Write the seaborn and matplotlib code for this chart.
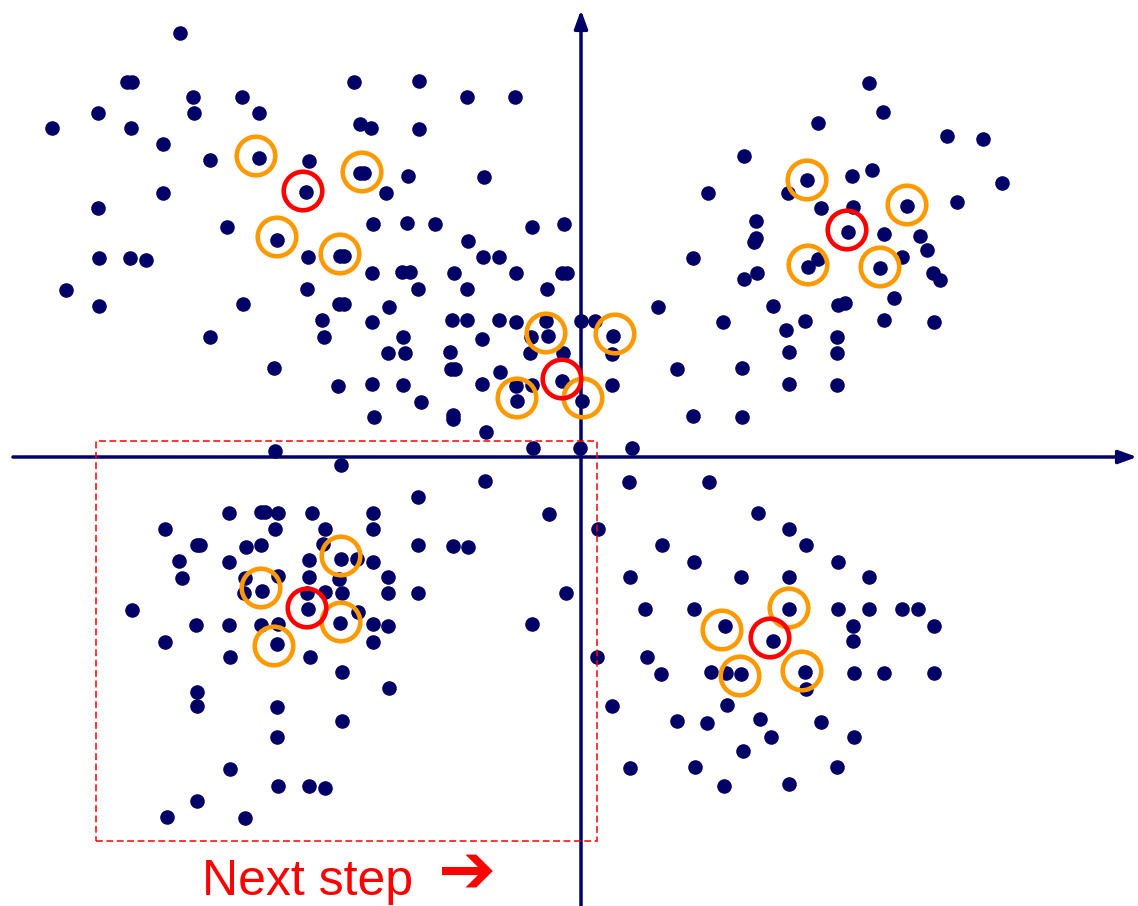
import matplotlib
matplotlib.use("Agg")
import matplotlib.pyplot as plt
from matplotlib.patches import Rectangle
import seaborn as sns
import pandas as pd

sns.set_theme(style="white")
plt.rcParams["font.family"] = ["Liberation Sans", "DejaVu Sans"]

NAVY = "#000066"
ORANGE = "#FF9900"
RED = "#FF0000"

# ---- samples, quadrant by quadrant ----
upper_left_x = [-40.1, -45.4, -44.9, -38.8, -33.9, -48.3, -38.7, -32.2, -52.9, -45.0,
                -41.8, -37.1, -32.2, -41.8, -48.3, -35.4, -30.4, -22.7, -16.2, -11.4,
                -6.6, -22.1, -21.0, -16.2, -27.2, -22.1, -21.7, -17.3, -9.7, -27.5,
                -19.5, -20.8, -17.4, -14.6, -11.3, -4.9, -1.7, -48.2, -45.1, -43.5,
                -51.5, -48.2, -33.8, -37.1, -30.7, -30.6, -24.1, -23.7, -27.3, -20.9,
                -17.9, -17.1, -12.7, -9.8, -8.2, -6.5, -1.9, -1.4, -3.4, -27.4,
                -16.3, -11.4, -24.2, -23.7, -19.2, -25.9, -20.9, -12.9, -11.4, -8.2,
                -6.5, -3.5, -3.3, 0.0, -25.7, -17.8, -9.9, -5.0, -19.3, -17.6,
                -13.1, -5.1, -1.8, -13.0, -12.6, -8.1, -24.3, -20.9, -17.8, -9.9,
                -6.5, -4.9, -1.9, -16.0, -6.4, 0.1, -20.7, -12.8, -12.8, -9.5,
                -4.8, -0.1]
upper_left_y = [42.4, 37.5, 37.5, 36.0, 36.0, 34.4, 34.4, 34.4, 32.9, 32.9,
                31.3, 29.7, 29.9, 26.4, 24.9, 23.0, 21.7, 37.5, 37.6, 36.0,
                36.0, 33.3, 32.9, 32.8, 29.6, 28.4, 28.4, 28.1, 28.0, 26.5,
                26.4, 23.3, 23.4, 23.3, 21.6, 23.0, 23.3, 19.9, 19.9, 19.7,
                16.7, 15.1, 15.3, 12.0, 8.9, 0.6, 20.1, 20.1, 20.0, 18.4,
                18.5, 18.5, 18.4, 20.0, 20.0, 18.4, 18.4, 18.4, 16.8, 16.8,
                16.8, 16.8, 15.3, 15.3, 15.0, 13.7, 13.5, 13.7, 13.7, 13.7,
                13.5, 13.6, 12.1, 13.6, 12.0, 12.0, 11.8, 12.0, 10.4, 10.4,
                10.5, 10.4, 10.4, 8.8, 8.8, 8.5, 7.1, 7.3, 7.2, 7.3,
                7.1, 7.2, 7.6, 5.5, 5.6, 5.6, 4.0, 4.2, 3.8, 2.5,
                0.9, 0.9]

upper_right_x = [28.8, 23.7, 30.2, 16.3, 22.6, 27.1, 29.1, 12.7, 20.7, 24.0,
                 27.2, 26.7, 17.5, 17.5, 36.6, 40.2, 42.1, 32.6, 37.6, 30.3,
                 33.9, 17.3, 11.2, 22.7, 23.7, 17.6, 16.3, 7.7, 19.2, 25.7,
                 26.4, 1.4, 14.2, 22.4, 20.5, 3.2, 3.1, 25.6, 20.8, 25.6,
                 9.6, 16.1, 3.1, 20.8, 25.6, 11.2, 16.1, 5.1, 34.6, 32.1,
                 29.9, 35.2, 35.9, 31.3, 30.3, 35.3]
upper_right_y = [37.4, 33.4, 34.5, 30.1, 27.7, 28.1, 28.7, 26.4, 26.4, 24.9,
                 25.0, 22.5, 23.6, 21.9, 32.1, 31.8, 27.4, 25.1, 25.5, 22.3,
                 22.1, 21.5, 19.9, 19.0, 19.8, 18.4, 17.8, 15.0, 15.1, 15.2,
                 15.4, 13.6, 13.5, 13.6, 12.7, 12.1, 10.3, 12.0, 10.5, 10.4,
                 8.8, 8.9, 7.2, 7.3, 7.2, 4.1, 4.0, 0.9, 20.7, 20.0,
                 18.9, 18.4, 17.7, 15.9, 13.7, 13.5]

lower_left_x = [-24.0, -16.3, -35.2, -32.0, -31.6, -30.3, -26.9, -20.8, -41.6, -30.6,
                -25.6, -20.8, -38.4, -38.1, -33.5, -32.0, -25.8, -16.3, -12.8, -11.3,
                -9.6, -3.2, -1.5, -4.9, -40.2, -35.2, -27.2, -24.0, -22.4, -20.8,
                -39.9, -33.6, -30.3, -27.2, -24.2, -19.3, -33.7, -31.9, -27.4, -25.6,
                -23.9, -19.3, -16.3, -44.9, -27.3, -22.3, -38.5, -35.2, -32.0, -30.3,
                -24.1, -20.8, -19.3, -41.6, -30.4, -20.8, -35.1, -27.1, -23.9, -19.2,
                -38.4, -38.4, -30.4, -23.9, -30.4, -35.1, -30.3, -27.2, -25.6, -38.4,
                -41.4, -33.6]
lower_left_y = [-0.8, -4.0, -5.6, -5.5, -5.5, -5.6, -5.6, -5.6, -7.2, -7.2,
                -7.2, -7.2, -8.8, -8.8, -9.0, -8.8, -8.7, -8.8, -8.9, -9.0,
                -2.4, -5.7, -13.6, -16.7, -10.4, -10.5, -10.3, -10.2, -10.2, -10.5,
                -12.1, -12.1, -11.9, -12.0, -12.2, -12.0, -13.6, -13.4, -13.6, -13.5,
                -13.6, -13.6, -13.6, -15.3, -15.2, -15.5, -16.8, -16.8, -16.8, -16.7,
                -16.6, -16.7, -16.9, -18.5, -18.7, -18.5, -20.0, -20.0, -21.5, -23.1,
                -23.5, -24.9, -25.0, -26.4, -28.0, -31.2, -32.9, -32.9, -33.1, -34.4,
                -36.0, -36.1]

lower_right_x = [4.8, 12.8, 17.7, 1.7, 20.8, 8.1, 22.5, 11.3, 25.7, 4.9,
                 16.0, 20.8, 28.8, 6.4, 11.3, 20.8, 25.7, 28.8, 32.1, 33.7,
                 14.4, 27.2, 35.3, 19.2, 27.2, 1.6, 6.6, 8.0, 13.0, 14.5,
                 16.0, 22.4, 22.5, 27.3, 30.3, 35.3, 3.1, 14.6, 9.6, 12.6,
                 17.9, 24.0, 19.0, 27.3, 16.2, 4.9, 11.4, 25.6, 14.3, 20.8]
lower_right_y = [-2.5, -2.5, -5.6, -7.2, -7.2, -8.8, -8.8, -10.5, -10.5, -12.0,
                 -12.0, -12.0, -12.0, -15.2, -15.2, -15.2, -15.2, -15.2, -15.2, -15.2,
                 -16.9, -16.9, -16.9, -18.4, -18.4, -20.0, -20.0, -21.7, -21.5, -21.6,
                 -21.7, -21.5, -23.2, -21.6, -21.6, -21.6, -24.9, -24.8, -26.4, -26.6,
                 -26.2, -26.5, -28.0, -28.0, -29.4, -31.1, -31.0, -31.0, -32.9, -32.7]

# ---- highlighted samples: centres (red) and their neighbours (orange) ----
center_x = [-27.8, -1.9, 26.6, -27.4, 18.9]
center_y = [26.6, 7.8, 22.7, -15.1, -18.1]
neighbor_x = [-32.5, -21.9, -30.4, -24.1, -3.5, 3.4, -6.4, 0.2, 22.6, 32.6,
              22.7, 29.9, -24.0, -32.0, -24.0, -30.7, 14.1, 20.8, 15.9, 22.1]
neighbor_y = [30.1, 28.5, 22.0, 20.3, 12.4, 12.3, 5.9, 5.9, 27.7, 25.2,
              19.2, 19.0, -9.9, -13.1, -16.5, -18.9, -17.3, -15.1, -21.9, -21.4]

# region selected for the next step
box_x = [-48.5, 1.6]
box_y = [-38.4, 1.6]
caption = "Next step"
caption_arrow = "\u2794"

points = pd.DataFrame({
    "x": upper_left_x + upper_right_x + lower_left_x + lower_right_x,
    "y": upper_left_y + upper_right_y + lower_left_y + lower_right_y,
})
centers = pd.DataFrame({"x": center_x, "y": center_y})
neighbors = pd.DataFrame({"x": neighbor_x, "y": neighbor_y})

fig = plt.figure(figsize=(11.38, 9.06), dpi=100)
ax = fig.add_axes([0, 0, 1, 1])
ax.set_xlim(-58.1, 55.7)
ax.set_ylim(-44.9, 45.7)
ax.axis("off")

# coordinate axes with arrow heads
arrow_style = dict(arrowstyle="-|>,head_length=1.1,head_width=0.4", color=NAVY,
                   lw=2.5, shrinkA=0, shrinkB=0, mutation_scale=10)
ax.annotate("", xy=(55.6, 0), xytext=(-56.8, 0), arrowprops=arrow_style, zorder=1)
ax.annotate("", xy=(0, 44.7), xytext=(0, -45.5), arrowprops=arrow_style, zorder=1)

sns.scatterplot(data=points, x="x", y="y", ax=ax, color=NAVY, s=110,
                linewidth=0, zorder=2, legend=False)
sns.scatterplot(data=neighbors, x="x", y="y", ax=ax, color=ORANGE, s=770,
                facecolor="none", edgecolor=ORANGE, linewidth=3.3, zorder=3, legend=False)
sns.scatterplot(data=centers, x="x", y="y", ax=ax, color=RED, s=770,
                facecolor="none", edgecolor=RED, linewidth=3.3, zorder=3, legend=False)

ax.add_patch(Rectangle((box_x[0], box_y[0]), box_x[1] - box_x[0], box_y[1] - box_y[0],
                       fill=False, edgecolor=RED, lw=1.1, linestyle=(0, (4.5, 2.3)),
                       zorder=4))

ax.text(-37.9, -43.8, caption, color=RED, fontsize=36, ha="left", va="baseline",
        family=["Liberation Sans", "DejaVu Sans"])
ax.text(-14.4, -41.6, caption_arrow, color=RED, fontsize=50, ha="left", va="center",
        family=["DejaVu Sans"])

ax.set_xlabel("")
ax.set_ylabel("")
fig.savefig("out.png", dpi=100)
